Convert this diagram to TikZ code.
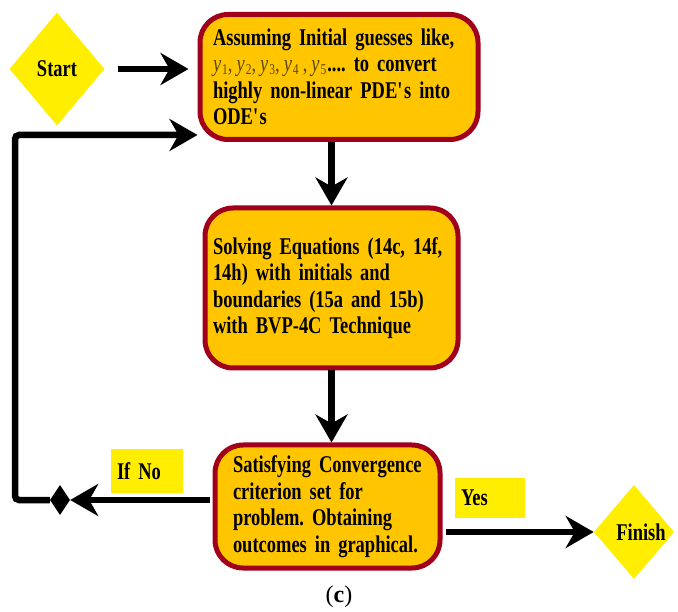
\documentclass[tikz,border=0pt]{standalone}
\usepackage{fontspec}
\setmainfont{Liberation Serif}[FakeStretch=0.77,WordSpace=0.55]
\newfontfamily\capfont{Liberation Serif}
\usepackage{xcolor}
\usepackage{tikz}
\usetikzlibrary{shapes.geometric}
\usetikzlibrary{arrows.meta}
\definecolor{boxfill}{HTML}{FFC600}
\definecolor{boxline}{HTML}{A0001A}
\definecolor{tagyellow}{HTML}{FFEE00}
\definecolor{ycolor}{HTML}{5C4A00}
\frenchspacing
\newcommand{\yvar}[1]{{\mdseries\itshape\color{ycolor}y\kern1pt\raisebox{-3pt}{\fontsize{15}{15}\selectfont\upshape#1}}}
\newcommand{\ycomma}{{\mdseries\color{ycolor},}}
\tikzset{
	proc box/.style={rectangle,draw=boxline,fill=boxfill,line width=5pt,rounded corners=28pt,
		align=left,inner ysep=4pt,font=\fontsize{24}{26.5}\selectfont\bfseries},
	end node/.style={diamond,fill=tagyellow,inner sep=0pt,font=\fontsize{24}{26.5}\selectfont\bfseries},
	tag box/.style={rectangle,fill=tagyellow,align=left,inner ysep=0pt,font=\fontsize{24}{26.5}\selectfont\bfseries},
	junc node/.style={diamond,fill=black,inner sep=0pt,minimum width=20pt,minimum height=30pt},
	flow/.style={->,line width=6.5pt}
}

\begin{document}
\begin{tikzpicture}[x=1pt,y=-1pt,>={Stealth[length=28pt,width=32pt,inset=9pt]}]
	\useasboundingbox (0,0) rectangle (678,612);
	% terminals
	\node [end node,minimum width=95pt,minimum height=113pt] (start) at (57,69) {Start};
	\node [end node,minimum width=74pt,minimum height=94pt] (finish) at (634,532) {\hspace*{14pt}Finish};
	% process boxes
	\node [proc box,inner xsep=13pt,text width=252pt,minimum height=125pt] (guess) at (339,77)
		{Assuming Initial guesses like,\\
		\mbox{\yvar{1}\ycomma\,\yvar{2}\ycomma\,\yvar{3}\ycomma\,\yvar{4}\,\ycomma\,\yvar{5}\kern1pt.... to convert}\\
		highly non-linear PDE\textquotesingle s into\\
		ODE\textquotesingle s};
	\node [proc box,inner xsep=8pt,text width=237pt,minimum height=160pt] (solve) at (331.5,288)
		{Solving Equations (14c, 14f,\\
		14h) with initials and\\
		boundaries (15a and 15b)\\
		with BVP-4C Technique};
	\node [proc box,inner xsep=18pt,text width=189pt,minimum height=123pt] (check) at (327.5,506.5)
		{Satisfying Convergence\\
		criterion set for\\
		problem. Obtaining\\
		outcomes in graphical.};
	% decision labels
	\node [tag box,inner xsep=6pt,text width=60pt,minimum height=44pt] (ifno) at (147,471) {If No\\[6pt]};
	\node [tag box,inner xsep=6pt,text width=58pt,minimum height=40pt] (yes) at (490,498) {Yes};
	\node [junc node] (junc) at (60,500) {};
	\coordinate (bend) at (15,135);
	% connectors
	\draw [flow,shorten <=13pt,shorten >=9pt] (start.east) -- (start.east -| guess.west);
	\draw [flow] (solve.north |- guess.south) -- (solve.north);
	\draw [flow] (solve.south) -- (solve.south |- check.north);
	\draw [flow,shorten <=3pt] (check.west |- junc) -- (junc.east);
	\draw [flow,rounded corners=4pt] (junc.west) -| (bend) -- (bend -| guess.west);
	\draw [flow,shorten <=3pt] (finish.west -| check.east) -- (finish.west);
	% caption
	\node [font=\capfont\fontsize{24}{26}\selectfont] (cap) at (339,597) {(\textbf{c})};
\end{tikzpicture}
\end{document}
